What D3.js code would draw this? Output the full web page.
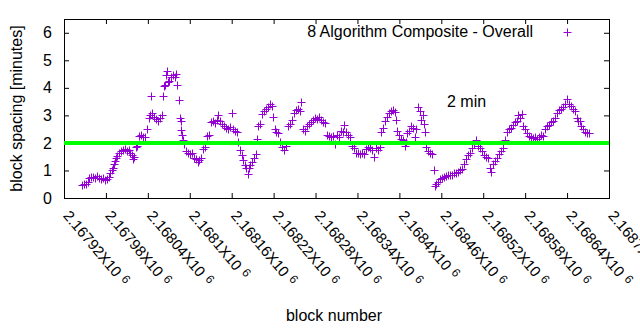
<html>
<head>
<script src="https://d3js.org/d3.v7.min.js"></script>
<style>
body { margin: 0; background: white; }
svg { font-family: "Liberation Sans", Arial, sans-serif; font-size: 16px; }
.axis path { display: none; }
.axis line { stroke: black; }
.pt { fill: none; stroke: #9400d3; stroke-width: 1; }
</style>
</head>
<body>
<div id="root"></div>
<script>
/* datos: numero de bloque y espaciado en minutos */
var blocks = [
  2167946, 2167949, 2167951, 2167954, 2167956, 2167959, 2167962, 2167964, 2167967, 2167970,
  2167973, 2167976, 2167979, 2167982, 2167984, 2167986, 2167989, 2167990, 2167992, 2167993,
  2167994, 2167996, 2167999, 2168002, 2168004, 2168007, 2168010, 2168013, 2168014, 2168017,
  2168019, 2168020, 2168023, 2168024, 2168027, 2168030, 2168033, 2168036, 2168039, 2168042,
  2168043, 2168045, 2168046, 2168049, 2168052, 2168055, 2168057, 2168060, 2168062, 2168063,
  2168065, 2168066, 2168067, 2168069, 2168070, 2168073, 2168076, 2168079, 2168080, 2168082,
  2168085, 2168086, 2168087, 2168088, 2168089, 2168090, 2168092, 2168095, 2168097, 2168100,
  2168103, 2168106, 2168109, 2168112, 2168113, 2168116, 2168119, 2168122, 2168125, 2168128,
  2168130, 2168133, 2168136, 2168139, 2168140, 2168143, 2168146, 2168149, 2168152, 2168155,
  2168158, 2168160, 2168162, 2168165, 2168168, 2168169, 2168172, 2168175, 2168176, 2168179,
  2168180, 2168183, 2168185, 2168186, 2168189, 2168192, 2168195, 2168196, 2168198, 2168201,
  2168203, 2168206, 2168209, 2168212, 2168215, 2168218, 2168219, 2168222, 2168223, 2168226,
  2168229, 2168232, 2168235, 2168238, 2168241, 2168243, 2168246, 2168249, 2168252, 2168255,
  2168258, 2168259, 2168262, 2168265, 2168268, 2168271, 2168273, 2168276, 2168279, 2168282,
  2168285, 2168288, 2168291, 2168294, 2168296, 2168299, 2168302, 2168305, 2168308, 2168311,
  2168314, 2168316, 2168319, 2168321, 2168324, 2168326, 2168329, 2168332, 2168335, 2168338,
  2168341, 2168344, 2168346, 2168349, 2168352, 2168355, 2168358, 2168361, 2168364, 2168367,
  2168369, 2168372, 2168374, 2168377, 2168379, 2168382, 2168385, 2168388, 2168391, 2168394,
  2168395, 2168397, 2168399, 2168402, 2168405, 2168408, 2168409, 2168411, 2168414, 2168417,
  2168419, 2168422, 2168424, 2168427, 2168429, 2168431, 2168434, 2168435, 2168437, 2168438,
  2168441, 2168444, 2168447, 2168450, 2168451, 2168452, 2168455, 2168458, 2168461, 2168464,
  2168467, 2168470, 2168472, 2168475, 2168478, 2168481, 2168484, 2168487, 2168490, 2168492,
  2168495, 2168498, 2168501, 2168504, 2168507, 2168510, 2168513, 2168515, 2168518, 2168521,
  2168524, 2168527, 2168530, 2168531, 2168534, 2168537, 2168540, 2168543, 2168545, 2168548,
  2168551, 2168554, 2168557, 2168560, 2168563, 2168565, 2168568, 2168570, 2168572, 2168575,
  2168577, 2168580, 2168583, 2168585, 2168588, 2168591, 2168594, 2168597, 2168600, 2168603,
  2168606, 2168608, 2168611, 2168614, 2168617, 2168620, 2168623, 2168626, 2168628, 2168631,
  2168634, 2168637, 2168640, 2168643, 2168646, 2168648, 2168651, 2168654, 2168656, 2168659,
  2168660, 2168663, 2168666, 2168668, 2168671
];
var spacing = [
  0.48, 0.52, 0.50, 0.58, 0.72, 0.76, 0.78, 0.74, 0.80, 0.72,
  0.68, 0.72, 0.66, 0.70, 0.78, 0.92, 1.00, 1.10, 1.22, 1.35,
  1.45, 1.52, 1.62, 1.70, 1.75, 1.78, 1.72, 1.76, 1.62, 1.55,
  1.42, 1.50, 1.85, 1.90, 2.25, 2.30, 2.20, 2.22, 2.50, 2.90,
  3.00, 3.70, 3.10, 2.95, 2.88, 2.80, 2.90, 3.00, 3.70, 4.05,
  4.10, 4.47, 4.60, 4.20, 4.25, 4.40, 4.45, 4.38, 4.50, 4.10,
  3.56, 2.90, 2.80, 2.47, 2.30, 2.10, 1.95, 1.70, 1.62, 1.58,
  1.65, 1.45, 1.40, 1.32, 1.38, 1.45, 1.78, 1.85, 2.25, 2.30,
  2.75, 2.78, 2.72, 2.82, 3.00, 2.78, 2.70, 2.62, 2.55, 2.50,
  2.58, 3.10, 2.50, 2.42, 2.40, 2.05, 1.75, 1.55, 1.38, 1.20,
  1.10, 0.87, 1.10, 1.20, 1.30, 1.45, 1.60, 2.15, 2.60, 2.70,
  3.05, 3.15, 3.25, 3.30, 3.40, 3.35, 2.95, 2.50, 2.40, 2.35,
  2.05, 1.85, 1.75, 1.90, 2.60, 2.70, 2.85, 3.10, 3.20, 3.25,
  3.15, 3.50, 2.50, 2.45, 2.60, 2.70, 2.75, 2.85, 2.90, 2.88,
  2.95, 2.85, 2.75, 2.72, 2.30, 2.25, 2.20, 2.25, 1.95, 2.30,
  2.20, 2.45, 2.40, 2.65, 2.40, 2.30, 2.20, 1.90, 1.80, 1.65,
  1.62, 1.58, 1.65, 1.60, 1.78, 1.85, 1.80, 1.75, 1.50, 1.80,
  1.75, 1.85, 2.40, 2.55, 2.80, 2.95, 3.10, 3.15, 3.20, 3.12,
  2.85, 2.45, 2.30, 2.15, 2.10, 1.90, 2.05, 2.35, 2.45, 2.60,
  2.55, 2.20, 2.50, 3.30, 3.15, 2.85, 3.00, 2.70, 2.40, 1.85,
  1.72, 1.65, 1.60, 1.02, 0.45, 0.50, 0.58, 0.68, 0.72, 0.75,
  0.80, 0.82, 0.85, 0.85, 0.90, 0.92, 0.95, 1.00, 1.05, 1.25,
  1.40, 1.55, 1.65, 1.80, 1.95, 2.10, 1.90, 1.80, 1.70, 1.55,
  1.50, 1.45, 1.10, 0.95, 1.25, 1.35, 1.45, 1.60, 1.70, 1.80,
  2.10, 2.40, 2.50, 2.55, 2.65, 2.75, 2.80, 3.00, 2.90, 3.05,
  2.60, 2.50, 2.35, 2.25, 2.20, 2.18, 2.20, 2.15, 2.20, 2.30,
  2.25, 2.50, 2.60, 2.65, 2.75, 2.80, 2.90, 3.10, 3.20, 3.25,
  3.30, 3.40, 3.60, 3.40, 3.35, 3.25, 3.15, 2.90, 2.80, 2.80,
  2.60, 2.50, 2.40, 2.35, 2.35
];
var xTicks = [2167920, 2167980, 2168040, 2168100, 2168160, 2168220, 2168280,
              2168340, 2168400, 2168460, 2168520, 2168580, 2168640, 2168700];
var yTicks = [0, 1, 2, 3, 4, 5, 6];
var serieNombre = "8 Algorithm Composite - Overall";
var refValor = 2;
var refTexto = "2 min";

var data = blocks.map(function(b, i) { return {bloque: b, valor: spacing[i]}; });

var margin = {top: 19, right: 31, bottom: 132, left: 64};
var width = 640 - margin.left - margin.right;
var height = 330 - margin.top - margin.bottom;

var x = d3.scaleLinear()
  .domain([xTicks[0], xTicks[xTicks.length - 1]])
  .range([0, width]);

var y = d3.scaleLinear()
  .domain([0, 6.5])
  .range([height, 0]);

var svg = d3.select("#root").append("svg")
  .attr("width", 640)
  .attr("height", 330)
  .append("g")
  .attr("transform", `translate(${margin.left}, ${margin.top})`);

/* ejes con marcas hacia adentro, como gnuplot */
var xAxis = svg.append("g")
  .attr("class", "x axis")
  .attr("transform", `translate(0, ${height})`)
  .call(d3.axisBottom(x).tickValues(xTicks).tickSize(-5).tickFormat(""))
  .attr("font-family", null)
  .attr("font-size", null);

xAxis.selectAll(".tick").each(function(d) {
  var t = d3.select(this).append("text")
    .attr("transform", "translate(-2, 18) rotate(50)")
    .attr("fill", "#000")
    .attr("font-size", "15px")
    .attr("text-anchor", "start")
    .text(String(+(d / 1e6).toFixed(5)) + "X10");
  t.append("tspan")
    .attr("font-size", "12px")
    .attr("dx", 5)
    .attr("dy", -4)
    .text("6");
});

svg.append("g")
  .attr("class", "x axis")
  .call(d3.axisTop(x).tickValues(xTicks).tickSize(-5).tickFormat(""));

svg.append("g")
  .attr("class", "y axis")
  .call(d3.axisLeft(y).tickValues(yTicks).tickSize(-5).tickPadding(12).tickFormat(d3.format("d")))
  .attr("font-family", null)
  .attr("font-size", null)
  .selectAll("text")
  .attr("fill", "#000");

svg.append("g")
  .attr("class", "y axis")
  .attr("transform", `translate(${width}, 0)`)
  .call(d3.axisRight(y).tickValues(yTicks).tickSize(-5).tickFormat(""));

svg.append("rect")
  .attr("x", 0.5)
  .attr("y", 0.5)
  .attr("width", width)
  .attr("height", height)
  .attr("fill", "none")
  .attr("stroke", "#000");

/* puntos "+" */
var plus = "M-4,0H4M0,-4V4";
svg.append("g")
  .selectAll("path")
  .data(data).enter()
  .append("path")
  .attr("class", "pt")
  .attr("transform", d => `translate(${Math.round(x(d.bloque)) + 0.5}, ${Math.round(y(d.valor)) + 0.5})`)
  .attr("d", plus);

/* linea de referencia 2 min */
svg.append("line")
  .attr("x1", 0)
  .attr("x2", width)
  .attr("y1", y(refValor))
  .attr("y2", y(refValor))
  .attr("stroke", "#00ff00")
  .attr("stroke-width", 4);

svg.append("text")
  .attr("x", 383)
  .attr("y", 88)
  .text(refTexto);

/* leyenda */
svg.append("text")
  .attr("x", 469)
  .attr("y", 18)
  .attr("text-anchor", "end")
  .text(serieNombre);

svg.append("path")
  .attr("class", "pt")
  .attr("transform", "translate(503.5, 13.5)")
  .attr("d", plus);

/* titulos de ejes */
svg.append("text")
  .attr("transform", `translate(-42, ${height / 2}) rotate(-90)`)
  .attr("text-anchor", "middle")
  .text("block spacing [minutes]");

svg.append("text")
  .attr("x", 270)
  .attr("y", 302)
  .attr("text-anchor", "middle")
  .text("block number");
</script>
</body>
</html>
